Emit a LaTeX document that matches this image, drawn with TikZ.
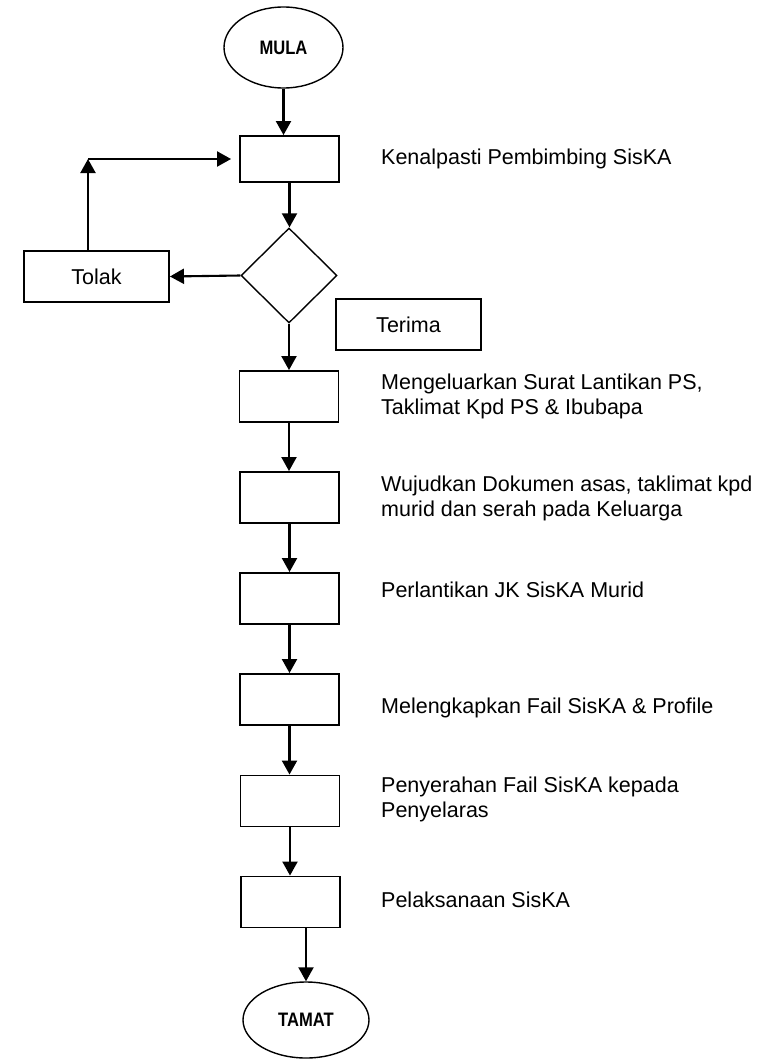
\documentclass[tikz,border=0pt]{standalone}
\usepackage{fontspec}
\setmainfont{Liberation Sans}
\newfontfamily\termfont{Liberation Sans}[FakeStretch=0.85]
\usetikzlibrary{shapes.geometric,arrows.meta}

\tikzset{
    stepbox/.style={draw=black, line width=1.9pt, minimum width=99pt, minimum height=51pt, inner sep=0pt},
    terminal/.style={draw=black, ellipse, line width=1.4pt, inner sep=0pt, font=\termfont\bfseries\fontsize{19.5}{22}\selectfont},
    arr/.style={line width=2.1pt, -{Triangle[width=15pt,length=14pt]}},
    note/.style={anchor=west, align=left, inner sep=0pt}
}

\begin{document}
\begin{tikzpicture}[x=1pt, y=-1pt, font=\fontsize{21.5}{25}\selectfont]
            \useasboundingbox (0,0) rectangle (778,1060);

            %Start and end
            \node[terminal, minimum width=119pt, minimum height=81pt] (mula) at (283.5,47.5) {MULA};
            \node[terminal, minimum width=126pt, minimum height=76pt] (tamat) at (306,1020) {TAMAT};

            %Steps
            \node[stepbox, minimum height=46pt] (kenal) at (289.5,159) {};
            \node[draw=black, diamond, line width=1.4pt, minimum width=96pt, minimum height=95pt, inner sep=0pt] (semak) at (289,275.5) {};
            \node[stepbox, minimum width=145pt] (tolak) at (96.5,276.5) {Tolak};
            \node[stepbox, minimum width=145pt] (terima) at (408.5,324.5) {Terima};
            \node[stepbox] (surat) at (289,396.5) {};
            \node[stepbox] (dokumen) at (289.5,497.5) {};
            \node[stepbox] (lantik) at (289.5,598.5) {};
            \node[stepbox] (fail) at (289.5,699.5) {};
            \node[stepbox] (serah) at (290,801) {};
            \node[stepbox] (laksana) at (290.5,902) {};
            \coordinate (balik) at (88,159);

            %Descriptions
            \node[note] (tkenal) at (381,159) {Kenalpasti Pembimbing SisKA};
            \node[note] (tsurat) at (381,396) {Mengeluarkan Surat Lantikan PS,\\Taklimat Kpd PS \& Ibubapa};
            \node[note] (tdokumen) at (381,498) {Wujudkan Dokumen asas, taklimat kpd\\murid dan serah pada Keluarga};
            \node[note] (tlantik) at (381,590) {Perlantikan JK SisKA Murid};
            \node[note] (tfail) at (381,708) {Melengkapkan Fail SisKA \& Profile};
            \node[note] (tserah) at (381,799) {Penyerahan Fail SisKA kepada\\Penyelaras};
            \node[note] (tlaksana) at (381,900) {Pelaksanaan SisKA};

            %Flow
            \draw[arr] (mula) -- (mula |- kenal.north);
            \draw[arr] (kenal) -- (kenal |- semak.north);
            \draw[arr] (semak.west) -- (tolak.east);
            \draw[arr] (tolak.north -| balik) -- (balik);
            \draw[arr, shorten >=8pt] (balik) -- (kenal.west);
            \draw[arr] (semak.south) -- (semak.south |- surat.north);
            \draw[arr] (surat) -- (surat |- dokumen.north);
            \draw[arr] (dokumen) -- (dokumen |- lantik.north);
            \draw[arr] (lantik) -- (lantik |- fail.north);
            \draw[arr] (fail) -- (fail |- serah.north);
            \draw[arr] (serah) -- (serah |- laksana.north);
            \draw[arr] (laksana.south -| tamat) -- (tamat.north);
        \end{tikzpicture}
\end{document}
